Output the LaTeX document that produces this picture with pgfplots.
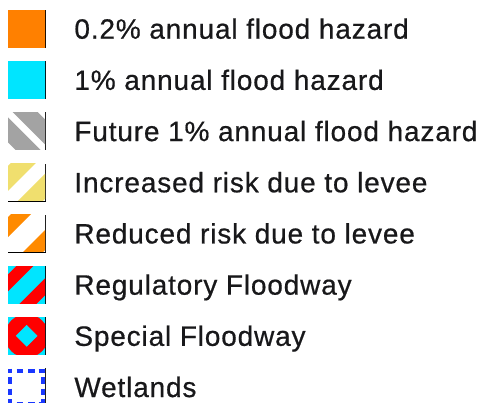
\documentclass[border=0pt]{standalone}
\usepackage{fontspec}
\setmainfont{Liberation Sans}[LetterSpace=3,FakeBold=0.6]
\usepackage{pgfplots}
\pgfplotsset{compat=1.18}

\definecolor{solidorange}{RGB}{255,128,0}
\definecolor{solidcyan}{RGB}{0,229,255}
\definecolor{stripegray}{RGB}{163,163,163}
\definecolor{stripeyellow}{RGB}{240,223,110}
\definecolor{stripeorange}{RGB}{255,138,0}
\definecolor{fwred}{RGB}{255,0,0}
\definecolor{wetblue}{RGB}{25,55,255}
\definecolor{txt}{RGB}{24,24,26}

% every swatch is 37bp square, centred on the legend row
\newcommand{\swatchbox}{\path (0,0) rectangle (37,37);}

\pgfplotsset{
  swatch/.style={legend image code/.code={%
    \begin{scope}[x=1bp,y=1bp,yshift=-18.5bp]
      \swatchbox
      \begin{scope}
        \clip (0,0) rectangle (37,37);
        #1
      \end{scope}
    \end{scope}}},
}

\begin{document}
\begin{tikzpicture}
\useasboundingbox (0,0) rectangle (485bp,403bp);
\begin{axis}[
    width=485bp, height=403bp,
    scale only axis,
    hide axis,
    xmin=0, xmax=485, ymin=0, ymax=403,
    legend cell align=left,
    legend style={
        at={(8/485,393/403)}, anchor=north west,
        draw=none, fill=none, inner sep=0pt, outer sep=0pt,
        row sep=13.79bp, column sep=29bp,
        font=\fontsize{28bp}{30bp}\selectfont,
        text=txt,
        nodes={inner sep=0pt, text height=20bp, text depth=0pt, anchor=west},
    },
]
\addlegendimage{swatch={\fill[solidorange,overlay] (0,0) rectangle (37,37);}}
\addlegendentry{0.2\% annual flood hazard}

\addlegendimage{swatch={\fill[solidcyan,overlay] (0,0) rectangle (37,37);}}
\addlegendentry{1\% annual flood hazard}

\addlegendimage{swatch={%
    \fill[white,overlay] (0,0) rectangle (37,37);
    \draw[stripegray,line width=17.68bp,overlay] (84.5,-30) -- (-15.5,70);
    \draw[stripegray,line width=17.68bp,overlay] (49.5,-30) -- (-50.5,70);}}
\addlegendentry{Future 1\% annual flood hazard}

\addlegendimage{swatch={%
    \fill[white,overlay] (0,0) rectangle (37,37);
    \draw[stripeyellow,line width=17.68bp,overlay] (-52.5,-30) -- (47.5,70);
    \draw[stripeyellow,line width=17.68bp,overlay] (-7.5,-30) -- (92.5,70);}}
\addlegendentry{Increased risk due to levee}

\addlegendimage{swatch={%
    \fill[white,overlay] (0,0) rectangle (37,37);
    \draw[stripeorange,line width=14.14bp,overlay] (-55,-30) -- (45,70);
    \draw[stripeorange,line width=14.14bp,overlay] (-5,-30) -- (95,70);}}
\addlegendentry{Reduced risk due to levee}

\addlegendimage{swatch={%
    \fill[solidcyan,overlay] (0,0) rectangle (37,37);
    \draw[fwred,line width=12.02bp,overlay] (-50.5,-30) -- (49.5,70);
    \draw[fwred,line width=12.02bp,overlay] (-9.5,-30) -- (90.5,70);}}
\addlegendentry{Regulatory Floodway}

\addlegendimage{swatch={%
    \fill[solidcyan,overlay] (0,0) rectangle (37,37);
    \fill[fwred,overlay] (18.5,18.5) circle[radius=21.5];
    \fill[solidcyan,overlay] (18.5,8) -- (29,18.5) -- (18.5,29) -- (8,18.5) -- cycle;}}
\addlegendentry{Special Floodway}

\addlegendimage{swatch={%
    \fill[white,overlay] (0,0) rectangle (37,37);
    \draw[wetblue,line width=4bp,overlay,solid,
        dash pattern=on 4bp off 4.5bp on 6.5bp off 5bp on 6.5bp off 4bp on 6.5bp]
        (0,35) -- (37,35);
    \draw[wetblue,line width=4bp,overlay,solid,
        dash pattern=on 4bp off 4.5bp on 6.5bp off 5bp on 6.5bp off 4bp on 6.5bp]
        (0,2) -- (37,2);
    \draw[wetblue,line width=4bp,overlay,solid,
        dash pattern=on 4bp off 4.5bp on 6.5bp off 5bp on 6.5bp off 4bp on 6.5bp]
        (2,37) -- (2,0);
    \draw[wetblue,line width=4bp,overlay,solid,
        dash pattern=on 4bp off 4.5bp on 6.5bp off 5bp on 6.5bp off 4bp on 6.5bp]
        (35,37) -- (35,0);}}
\addlegendentry{Wetlands}
\end{axis}
\end{tikzpicture}
\end{document}
